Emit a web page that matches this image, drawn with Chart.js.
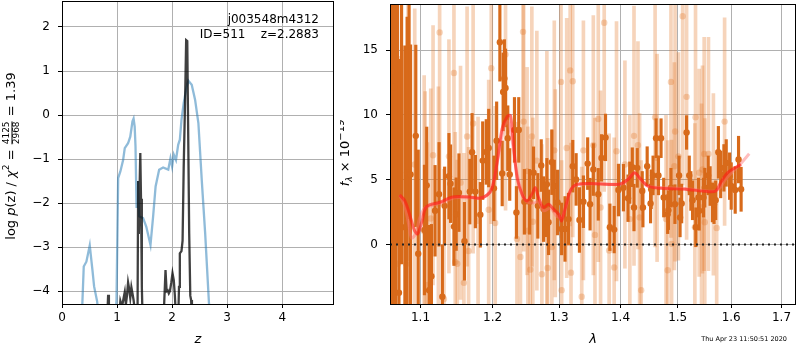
<!DOCTYPE html>
<html>
<head>
<meta charset="utf-8">
<script src="https://cdn.jsdelivr.net/npm/chart.js@4.4.1/dist/chart.umd.min.js"></script>
<style>
  html, body { margin: 0; padding: 0; background: #fff; }
  #wrap { position: relative; width: 800px; height: 350px; }
  #pz { position: absolute; left: 0; top: 0; }
  #spec { position: absolute; left: 340px; top: 0; }
</style>
</head>
<body>
<div id="wrap">
  <canvas id="pz" width="340" height="350"></canvas>
  <canvas id="spec" width="460" height="350"></canvas>
</div>
<script>
// ── Tick values ───────────────────────────────────────────────────────────
const zTicks = [0, 1, 2, 3, 4];
const logpTicks = [-4, -3, -2, -1, 0, 1, 2];
const wlTicks = [1.1, 1.2, 1.3, 1.4, 1.5, 1.6, 1.7];
const fluxTicks = [0, 5, 10, 15];

// ── Left panel: log p(z) and chi2 curves ──────────────────────────────────
const blueZ = [0.36, 0.395, 0.443, 0.504, 0.553, 0.583, 0.638, 0.67, 0.97, 0.99, 1.02, 1.06, 1.11, 1.14,
    1.20, 1.24, 1.28, 1.30, 1.32, 1.335, 1.354, 1.376, 1.40, 1.473, 1.53, 1.607, 1.655, 1.70, 1.764,
    1.836, 1.93, 1.97, 2.00, 2.03, 2.07, 2.11, 2.14, 2.17, 2.21, 2.26, 2.295, 2.356, 2.417, 2.477,
    2.54, 2.60, 2.67, 2.70];
const blueLogP = [-4.6, -3.44, -3.33, -2.96, -3.52, -3.89, -4.23, -4.6, -4.6, -4.2, -1.43, -1.28, -1.02, -0.75,
    -0.64, -0.49, -0.14, -0.08, -0.26, -0.71, -2.11, -1.5, -2.30, -2.34, -2.53, -2.95, -2.30, -1.62, -1.24,
    -1.19, -1.24, -0.98, -1.17, -0.90, -1.02, -0.675, -0.56, -0.11, 0.27, 0.62, 0.78, 0.69, 0.35, -0.18,
    -1.51, -2.68, -4.29, -4.6];

const blackZ = [0.80, 0.825, 0.838, 0.852, 0.87, 1.03, 1.06, 1.09, 1.12, 1.14, 1.16, 1.18, 1.20, 1.22, 1.24,
    1.26, 1.28, 1.30, 1.32, 1.35, 1.372, 1.383, 1.395, 1.41, 1.422, 1.435, 1.45, 1.465, 1.84, 1.855,
    1.88, 1.90, 1.92, 1.94, 1.96, 1.985, 2.007, 2.03, 2.05, 2.07, 2.11, 2.125, 2.14, 2.17, 2.19, 2.21,
    2.235, 2.255, 2.275, 2.29, 2.31, 2.33, 2.345, 2.36, 2.37];
const blackLogP = [-4.6, -4.5, -4.08, -4.5, -4.7, -4.7, -4.22, -4.35, -4.15, -4.02, -4.3, -4.1, -3.80, -3.95, -4.15,
    -3.91, -4.05, -4.2, -4.4, -4.7, -4.5, -1.5, -2.7, -1.6, -0.86, -1.9, -3.9, -4.7, -4.7, -4.3,
    -3.52, -4.0, -3.98, -4.05, -4.0, -3.8, -3.59, -3.75, -4.1, -4.6, -4.7, -3.9, -3.14, -3.09, -2.85, -1.2,
    0.3, 1.70, 1.68, -0.2, -2.68, -4.1, -4.2, -4.6, -4.7];

// ── Right panel: spectrum ─────────────────────────────────────────────────
const darkWave = [1.0612, 1.0664, 1.0700, 1.0752, 1.0850,
    1.0628, 1.0654, 1.0673, 1.0718, 1.0795, 1.0824, 1.0869, 1.0938, 1.0970, 1.1053, 1.1083,
    1.1115, 1.1146, 1.1195, 1.1249, 1.1294, 1.1325, 1.1384, 1.1406, 1.1453, 1.1484, 1.1522, 1.1599,
    1.1674, 1.1706, 1.1753, 1.1823, 1.1857, 1.1908, 1.1943, 1.2019, 1.2058, 1.2105, 1.2139, 1.2153,
    1.2171, 1.2188, 1.2221, 1.2250, 1.2320, 1.2349, 1.2384, 1.2468, 1.2547, 1.2607, 1.2672, 1.2724,
    1.2760, 1.2795, 1.2811, 1.2837, 1.2888, 1.2926, 1.2977, 1.3041, 1.3094, 1.3149, 1.3217, 1.3271,
    1.3324, 1.3388, 1.3457, 1.3496, 1.3549, 1.3630, 1.3684, 1.3750, 1.3822, 1.3894, 1.3966, 1.4050,
    1.4128, 1.4157, 1.4201, 1.4230, 1.4286, 1.4372, 1.4384, 1.4458, 1.4517, 1.4528, 1.4561, 1.4614,
    1.4656, 1.4702, 1.4749, 1.4820, 1.4833, 1.4879, 1.4950, 1.5025, 1.5043, 1.5072, 1.5162, 1.5211,
    1.5240, 1.5271, 1.5332, 1.5381, 1.5394, 1.5474, 1.5498, 1.5561, 1.5598, 1.5641, 1.5672, 1.5703,
    1.5754, 1.5798, 1.5860, 1.5904, 1.5969, 1.6000, 1.6077, 1.6142, 1.6192];
const darkFlux = [21.0, -6.0, 20.0, 19.5, 19.0,
    13.35, 12.15, 7.44, -3.72, 1.33, 5.55, 5.40, 8.38, -0.71, 1.12, 4.56,
    -3.52, -2.45, 2.60, 3.87, -4.03, 2.98, 5.27, 4.69, 1.38, 2.34, 4.00, 0.25,
    4.08, 7.11, 4.08, 2.29, 6.47, 7.14, 7.44, 4.33, 8.00, 15.60, 5.48, 11.77,
    12.80, 12.08, 8.20, 5.40, 8.84, 2.47, 8.84, 3.29, 3.29, 5.53, 2.98, 6.09,
    2.73, 2.60, 4.64, 1.71, 6.35, 4.51, 3.24, 1.20, 1.20, 1.96, 6.04, 5.02,
    1.89, 3.30, 6.24, 3.11, 5.78, 3.87, 6.68, 8.26, 1.33, 1.15, 4.20, 4.38,
    3.57, 4.77, 5.96, 2.85, 5.91, 4.13, 2.85, 6.04, 3.16, 4.26, 5.33, 8.20,
    5.33, 8.20, 3.62, 2.34, 2.65, 4.38, 3.11, 5.33, 2.09, 3.16, 8.64, 5.33,
    4.13, 3.41, 1.33, 3.62, 2.60, 3.62, 4.38, 5.33, 4.51, 3.24, 3.11, 3.41,
    7.11, 5.40, 5.91, 6.29, 5.27, 4.51, 4.20, 6.55, 4.26];
const darkErr = [24, 22, 20, 21, 17,
    20, 20, 20, 18, 14, 12, 10, 7, 8, 5, 4.5,
    5, 4, 3.5, 4, 4, 3, 3.3, 3, 3, 2.8, 3, 3,
    2.5, 3, 2.8, 2.5, 3, 2.5, 3, 2.5, 3, 3, 2.5, 3,
    3, 3, 2.5, 2, 2.5, 2, 2.5, 2.5, 2.5, 2, 2.5, 2,
    2.5, 2, 2, 2.5, 2.5, 2, 2.5, 2, 2.5, 2, 2, 2,
    2.5, 2, 2, 2, 2, 2, 1.8, 1.8, 1.8, 1.8, 2, 1.8,
    1.8, 1.6, 1.5, 1.8, 1.5, 1.5, 1.5, 1.5, 1.5, 1.5, 1.5, 1.5,
    1.5, 1.5, 1.5, 1.5, 1.5, 1.5, 1.5, 1.5, 1.5, 1.5, 1.3, 1.5,
    1.5, 1.5, 1.5, 1.5, 1.5, 1.5, 1.5, 1.5, 1.5, 1.5, 1.5, 1.5,
    2, 1.8, 1.8, 1.8, 1.8, 1.8, 1.8, 1.8, 1.7];

const lightWave = [1.0706, 1.0813, 1.0836, 1.0924, 1.1049, 1.1062, 1.1092, 1.1137, 1.1168, 1.1240, 1.1257,
    1.1316, 1.1384, 1.1453, 1.1471, 1.1499, 1.1544, 1.1591, 1.1636, 1.1657, 1.1721, 1.1791, 1.1943,
    1.1980, 1.2037, 1.2188, 1.2357, 1.2409, 1.2448, 1.2458, 1.2509, 1.2521, 1.2557, 1.2581, 1.2596,
    1.2657, 1.2734, 1.2811, 1.2822, 1.2888, 1.2926, 1.2941, 1.3031, 1.3041, 1.3121, 1.3176, 1.3189,
    1.3217, 1.3361, 1.3388, 1.3549, 1.3576, 1.3630, 1.3668, 1.3728, 1.3810, 1.3894, 1.3933, 1.4075,
    1.4159, 1.4230, 1.4298, 1.4327, 1.4354, 1.4597, 1.4632, 1.4790, 1.4820, 1.4879, 1.4890, 1.4940,
    1.4953, 1.5013, 1.5090, 1.5162, 1.5314, 1.5326, 1.5394, 1.5437, 1.5455, 1.5487, 1.5498, 1.5567,
    1.5660, 1.5722, 1.5873];
const lightFlux = [-1.48, -1.50, 14.76, 6.17, 1.02, 1.80, -3.13, 2.00, 6.88, 3.16, 16.36,
    -4.20, 6.80, 13.23, -1.35, -1.48, 4.77, -2.96, 8.33, -0.50, 9.33, 1.83, 2.68,
    13.60, 1.66, 14.65, 0.43, -0.97, 16.40, 9.48, 5.66, 1.07, -1.94, 8.33, 1.76,
    6.47, -2.29, 4.89, -1.81, -0.20, 7.26, 3.95, 12.54, -3.52, 7.44, 13.43, -2.17,
    12.59, -4.03, 7.26, 7.65, 0.74, 9.68, 2.85, 17.10, -0.46, -1.78, 7.19, 6.17,
    1.96, 8.38, 7.65, 2.09, -3.52, 9.81, 6.68, 1.96, -1.99, 12.54, 0.05, 6.04,
    8.72, 6.80, 17.60, 11.39, 1.33, 9.81, 5.53, 2.85, 5.78, 6.98, 1.71, 6.98,
    4.64, 1.27, 9.48];
const lightErr = [16, 14, 16, 12, 12, 10, 11, 10, 10, 9, 13,
    10, 9, 12, 10, 8, 9, 10, 10, 8, 10, 8, 10,
    12, 9, 12, 9, 10, 13, 10, 8, 8, 10, 10, 8,
    10, 10, 10, 10, 9, 10, 8, 12, 10, 10, 12, 10,
    12, 10, 10, 10, 9, 11, 9, 13, 9, 10, 10, 8,
    8, 10, 8, 8, 10, 10, 8, 8, 10, 12, 8, 8,
    10, 8, 13, 11, 8, 10, 8, 8, 8, 9, 8, 9,
    7, 6, 8];

const redWave = [1.0727, 1.0791, 1.0856, 1.0921, 1.0964, 1.1022, 1.1066, 1.1119, 1.1253, 1.1434, 1.1664,
    1.1805, 1.1923, 1.1995, 1.2067, 1.2139, 1.2212, 1.2261, 1.2310, 1.2359, 1.2433, 1.2507, 1.2582,
    1.2633, 1.2683, 1.2760, 1.2837, 1.2915, 1.2993, 1.3041, 1.3094, 1.3176, 1.3281, 1.3576, 1.3966,
    1.4128, 1.4241, 1.4327, 1.4470, 1.4702, 1.5133, 1.5548, 1.5703, 1.5798, 1.5930, 1.6065, 1.6192];
const redFlux = [3.82, 3.41, 2.34, 1.07, 0.82, 1.83, 2.80, 3.06, 3.24, 3.67, 3.67,
    3.57, 3.82, 4.38, 6.42, 8.97, 9.86, 9.95, 7.44, 5.15, 3.87, 3.36, 3.87,
    4.38, 3.62, 2.85, 3.11, 2.73, 2.34, 1.83, 2.73, 4.13, 4.64, 4.69, 4.64,
    5.02, 5.53, 5.15, 4.51, 4.33, 4.26, 4.08, 4.13, 4.77, 5.53, 5.91, 6.17];

const modelWave = [1.0727, 1.0791, 1.0843, 1.0882, 1.0935, 1.0987, 1.1053, 1.1146, 1.1321, 1.1457, 1.1664,
    1.1847, 1.1948, 1.2019, 1.2090, 1.2162, 1.2221, 1.2279, 1.2339, 1.2414, 1.2502, 1.2607, 1.2683,
    1.2760, 1.2868, 1.2962, 1.3041, 1.3117, 1.3197, 1.3308, 1.3630, 1.4050, 1.4162, 1.4244, 1.4332,
    1.4470, 1.5180, 1.5641, 1.5772, 1.5885, 1.6020, 1.6152, 1.6351];
const modelFlux = [3.8, 3.0, 1.6, 0.5, 0.8, 2.0, 2.8, 3.0, 3.3, 3.6, 3.6,
    3.6, 4.0, 5.0, 7.0, 9.0, 9.5, 8.2, 6.0, 4.3, 3.3, 3.2, 3.3,
    2.6, 2.8, 2.2, 2.1, 3.0, 4.3, 4.6, 4.7, 4.7, 5.3, 5.5, 5.0,
    4.5, 4.3, 4.1, 4.3, 5.0, 5.6, 6.1, 7.0];

const zeroWave = [1.0603, 1.7300];
const zeroFlux = [0, 0];

// ── Helpers ───────────────────────────────────────────────────────────────
const FAMILY = '"DejaVu Sans", sans-serif';
const font = (size, style) => (style ? style + ' ' : '') + size + 'px ' + FAMILY;

function points(xs, ys) {
    return xs.map(function (x, i) { return { x: x, y: ys[i] }; });
}
function errorBars(xs, ys, es) {
    return xs.map(function (x, i) { return { x: x, y: [ys[i] - es[i], ys[i] + es[i]] }; });
}
function setTicks(values) {
    return function (scale) {
        scale.ticks = values.map(function (v) { return { value: v }; });
    };
}
function fitAxis(size) {
    return function (scale) {
        if (scale.isHorizontal()) scale.height = size;
        else scale.width = size;
        scale.paddingTop = scale.paddingBottom = scale.paddingLeft = scale.paddingRight = 0;
    };
}
function fmtNum(v) {
    return v < 0 ? '\u2212' + Math.abs(v) : String(v);
}

const gridOpts = { color: '#b0b0b0', lineWidth: 1, tickColor: '#000', tickLength: 4, tickWidth: 1 };
const tickFont = { family: FAMILY, size: 12 };

// draw a run of text pieces (optionally rotated) centred on cx, cy
function drawRich(ctx, parts, cx, cy, angle) {
    ctx.save();
    ctx.translate(cx, cy);
    ctx.rotate(angle);
    ctx.fillStyle = '#000';
    ctx.textBaseline = 'middle';
    let total = 0;
    parts.forEach(function (p) {
        ctx.font = p.font;
        p.w = p.frac
            ? Math.max(ctx.measureText(p.frac[0]).width, ctx.measureText(p.frac[1]).width) + 2
            : ctx.measureText(p.text).width;
        total += p.w;
    });
    let x = -total / 2;
    parts.forEach(function (p) {
        ctx.font = p.font;
        if (p.frac) {
            ctx.textAlign = 'center';
            ctx.fillText(p.frac[0], x + p.w / 2, -5);
            ctx.fillText(p.frac[1], x + p.w / 2, 5);
            ctx.fillRect(x + 1, -0.5, p.w - 2, 1);
        } else {
            ctx.textAlign = 'left';
            ctx.fillText(p.text, x, p.dy || 0);
        }
        x += p.w;
    });
    ctx.restore();
}

const frame = {
    id: 'frame',
    afterDraw: function (chart) {
        const a = chart.chartArea;
        const ctx = chart.ctx;
        ctx.save();
        ctx.strokeStyle = '#000';
        ctx.lineWidth = 1;
        ctx.strokeRect(Math.round(a.left) + 0.5, Math.round(a.top) + 0.5,
            Math.round(a.right - a.left) - 1, Math.round(a.bottom - a.top));
        ctx.restore();
    },
};

// ── Left chart ────────────────────────────────────────────────────────────
const leftText = {
    id: 'leftText',
    afterDraw: function (chart) {
        const ctx = chart.ctx;
        const a = chart.chartArea;
        ctx.save();
        ctx.fillStyle = '#000';
        ctx.font = font(12);
        ctx.textAlign = 'right';
        ctx.textBaseline = 'middle';
        ctx.fillText('j003548m4312', 319, 20);
        ctx.fillText('ID=511    z=2.2883', 319, 35);
        ctx.textAlign = 'center';
        ctx.font = font(13, 'italic');
        ctx.fillText('z', (a.left + a.right) / 2, 340);
        ctx.restore();
        drawRich(ctx, [
            { text: 'log ', font: font(13) },
            { text: 'p', font: font(13, 'italic') },
            { text: '(z) / ', font: font(13) },
            { text: '\u03c7', font: font(13, 'italic') },
            { text: '2', font: font(9), dy: -5 },
            { text: ' = ', font: font(13) },
            { frac: ['4125', '2968'], font: font(9) },
            { text: ' = 1.39', font: font(13) },
        ], 12, 156, -Math.PI / 2);
    },
};

new Chart(document.getElementById('pz'), {
    type: 'line',
    data: {
        datasets: [
            {
                label: 'p(z)',
                data: points(blackZ, blackLogP),
                borderColor: 'rgba(0,0,0,0.75)',
                borderWidth: 2.3,
                pointRadius: 0,
                tension: 0,
                order: 0,
            },
            {
                label: 'chi2',
                data: points(blueZ, blueLogP),
                borderColor: 'rgba(31,119,180,0.5)',
                borderWidth: 2.3,
                pointRadius: 0,
                tension: 0,
                order: 1,
            },
        ],
    },
    options: {
        animation: false,
        responsive: false,
        devicePixelRatio: 1,
        events: [],
        layout: { padding: { top: 1, right: 6, left: 0, bottom: 0 } },
        plugins: { legend: { display: false }, tooltip: { enabled: false } },
        scales: {
            x: {
                type: 'linear',
                min: 0,
                max: 4.94,
                afterBuildTicks: setTicks(zTicks),
                afterFit: fitAxis(46),
                grid: gridOpts,
                border: { display: false },
                ticks: { color: '#000', font: tickFont, padding: 3, maxRotation: 0, autoSkip: false, callback: fmtNum },
            },
            y: {
                type: 'linear',
                min: -4.29,
                max: 2.59,
                afterBuildTicks: setTicks(logpTicks),
                afterFit: fitAxis(62),
                grid: gridOpts,
                border: { display: false },
                ticks: { color: '#000', font: tickFont, padding: 8, autoSkip: false, callback: fmtNum },
            },
        },
    },
    plugins: [frame, leftText],
});

// ── Right chart ───────────────────────────────────────────────────────────
const DARK = 'rgb(216,106,26)';
const LIGHT = 'rgba(228,122,42,0.32)';

const rightText = {
    id: 'rightText',
    afterDraw: function (chart) {
        const ctx = chart.ctx;
        const a = chart.chartArea;
        ctx.save();
        ctx.fillStyle = '#000';
        ctx.textAlign = 'center';
        ctx.textBaseline = 'middle';
        ctx.font = font(13, 'italic');
        ctx.fillText('\u03bb', (a.left + a.right) / 2, 340);
        ctx.font = font(6.5);
        ctx.textAlign = 'right';
        ctx.fillText('Thu Apr 23 11:50:51 2020', 447, 339);
        ctx.restore();
        drawRich(ctx, [
            { text: 'f', font: font(13, 'italic') },
            { text: '\u03bb', font: font(9, 'italic'), dy: 4 },
            { text: ' \u00d7 10', font: font(13) },
            { text: '\u221219', font: font(10), dy: -5 },
        ], 6, 153, -Math.PI / 2);
    },
};

new Chart(document.getElementById('spec'), {
    type: 'scatter',
    data: {
        datasets: [
            {
                type: 'line',
                label: 'zero',
                data: points(zeroWave, zeroFlux),
                borderColor: '#222',
                borderWidth: 2,
                borderDash: [2, 4],
                pointRadius: 0,
                order: 0,
            },
            {
                type: 'line',
                label: 'fit',
                data: points(redWave, redFlux),
                borderColor: 'rgba(255,25,20,0.6)',
                borderWidth: 3,
                pointRadius: 0,
                tension: 0.3,
                order: 1,
            },
            {
                type: 'line',
                label: 'model',
                data: points(modelWave, modelFlux),
                borderColor: 'rgba(255,110,110,0.45)',
                borderWidth: 3,
                pointRadius: 0,
                tension: 0.3,
                order: 2,
            },
            {
                label: 'flux',
                data: points(darkWave, darkFlux),
                backgroundColor: DARK,
                borderWidth: 0,
                pointRadius: 3.2,
                order: 3,
            },
            {
                type: 'bar',
                label: 'flux err',
                data: errorBars(darkWave, darkFlux, darkErr),
                backgroundColor: DARK,
                borderWidth: 0,
                barThickness: 2.5,
                grouped: false,
                order: 4,
            },
            {
                label: 'flux 2',
                data: points(lightWave, lightFlux),
                backgroundColor: LIGHT,
                borderWidth: 0,
                pointRadius: 3.2,
                order: 5,
            },
            {
                type: 'bar',
                label: 'flux 2 err',
                data: errorBars(lightWave, lightFlux, lightErr),
                backgroundColor: LIGHT,
                borderWidth: 0,
                barThickness: 3,
                grouped: false,
                order: 6,
            },
        ],
    },
    options: {
        animation: false,
        responsive: false,
        devicePixelRatio: 1,
        events: [],
        layout: { padding: { top: 1, right: 1, left: 0, bottom: 0 } },
        plugins: { legend: { display: false }, tooltip: { enabled: false } },
        scales: {
            x: {
                type: 'logarithmic',
                min: 1.0603,
                max: 1.73,
                offset: false,
                afterBuildTicks: setTicks(wlTicks),
                afterFit: fitAxis(46),
                grid: Object.assign({ offset: false }, gridOpts),
                border: { display: false },
                ticks: {
                    color: '#000', font: tickFont, padding: 3, maxRotation: 0, autoSkip: false,
                    callback: function (v) { return Number(v).toFixed(1); },
                },
            },
            y: {
                type: 'linear',
                min: -4.59,
                max: 18.55,
                afterBuildTicks: setTicks(fluxTicks),
                afterFit: fitAxis(50),
                grid: gridOpts,
                border: { display: false },
                ticks: { color: '#000', font: tickFont, padding: 8, autoSkip: false, callback: fmtNum },
            },
        },
    },
    plugins: [frame, rightText],
});
</script>
</body>
</html>
